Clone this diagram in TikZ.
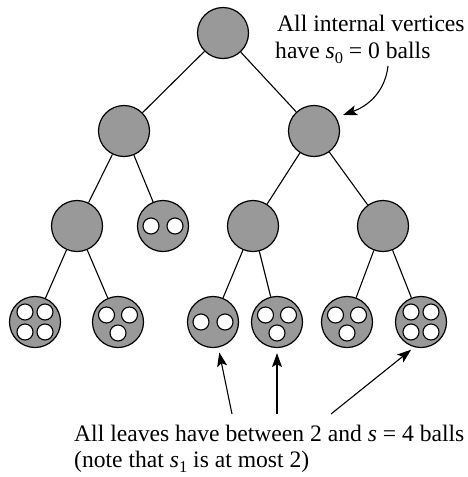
\documentclass[tikz,border=0pt]{standalone}
\usepackage{fontspec}
\setmainfont{Liberation Serif}
\usetikzlibrary{arrows.meta}
\definecolor{nodegray}{RGB}{153,153,153}
% italic letter with a lowered index, set in text fonts
\newcommand{\idx}[2]{\textit{#1}\raisebox{-0.22em}{\fontsize{16.5}{16.5}\selectfont #2}}
\begin{document}
\begin{tikzpicture}[x=1pt,y=-1pt,
  vertex/.style={circle,draw=black,fill=nodegray,line width=1.2pt,minimum size=51pt,inner sep=0pt},
  ball/.style={circle,draw=black,fill=white,line width=1.1pt,minimum size=16pt,inner sep=0pt},
  edge/.style={line width=1.1pt},
  pointer/.style={line width=1.1pt,-{Stealth[length=14pt,width=10pt,inset=3pt]}},
  label/.style={anchor=base west,inner sep=0pt,font=\fontsize{23.6}{28}\selectfont}]
\useasboundingbox (0,0) rectangle (467,477);

% tree vertices
\node[vertex] (r)   at (223,33)  {};
\node[vertex] (a)   at (124,131) {};
\node[vertex] (b)   at (314,131) {};
\node[vertex] (a1)  at (77,226)  {};
\node[vertex] (a2)  at (163,226) {};
\node[vertex] (b1)  at (253,226) {};
\node[vertex] (b2)  at (383,226) {};
\node[vertex] (l1)  at (35,322)  {};
\node[vertex] (l2)  at (118,322) {};
\node[vertex] (l3)  at (213,322) {};
\node[vertex] (l4)  at (277,322) {};
\node[vertex] (l5)  at (347,322) {};
\node[vertex] (l6)  at (421,322) {};

% edges
\draw[edge] (r) -- (a);   \draw[edge] (r) -- (b);
\draw[edge] (a) -- (a1);  \draw[edge] (a) -- (a2);
\draw[edge] (b) -- (b1);  \draw[edge] (b) -- (b2);
\draw[edge] (a1) -- (l1); \draw[edge] (a1) -- (l2);
\draw[edge] (b1) -- (l3); \draw[edge] (b1) -- (l4);
\draw[edge] (b2) -- (l5); \draw[edge] (b2) -- (l6);

% balls: two in a2
\node[ball] (a2p) at (151,226) {};
\node[ball] (a2q) at (175,226) {};
% four in l1
\node[ball] (l1p) at (25,312) {};
\node[ball] (l1q) at (45,312) {};
\node[ball] (l1r) at (25,332) {};
\node[ball] (l1s) at (45,332) {};
% three in l2
\node[ball] (l2p) at (106.5,315) {};
\node[ball] (l2q) at (129.5,315) {};
\node[ball] (l2r) at (118,333) {};
% two in l3
\node[ball] (l3p) at (201,322) {};
\node[ball] (l3q) at (225,322) {};
% three in l4
\node[ball] (l4p) at (265.5,315) {};
\node[ball] (l4q) at (288.5,315) {};
\node[ball] (l4r) at (277,333) {};
% three in l5
\node[ball] (l5p) at (335.5,315) {};
\node[ball] (l5q) at (358.5,315) {};
\node[ball] (l5r) at (347,333) {};
% four in l6
\node[ball] (l6p) at (411,312) {};
\node[ball] (l6q) at (431,312) {};
\node[ball] (l6r) at (411,332) {};
\node[ball] (l6s) at (431,332) {};

% annotations
\node[label] (t1) at (277,31) {All internal vertices};
\node[label] (t2) at (275,58) {have \idx{s}{0} = 0 balls};
\node[label] (t3) at (74,441) {All leaves have between 2 and \textit{s} = 4 balls};
\node[label] (t4) at (74,467) {(note that \idx{s}{1} is at most 2)};

\coordinate (c0) at (388,66);
\coordinate (c1) at (232,414);
\coordinate (c2) at (277,414);
\coordinate (c3) at (331,414);

\draw[pointer] (c0) .. controls (385,92) and (368,106) .. (343,115);
\draw[pointer,shorten >=5pt] (c1) -- (l3);
\draw[pointer,shorten >=5pt] (c2) -- (l4);
\draw[pointer,shorten >=4pt] (c3) -- (l6.255);
\end{tikzpicture}
\end{document}
